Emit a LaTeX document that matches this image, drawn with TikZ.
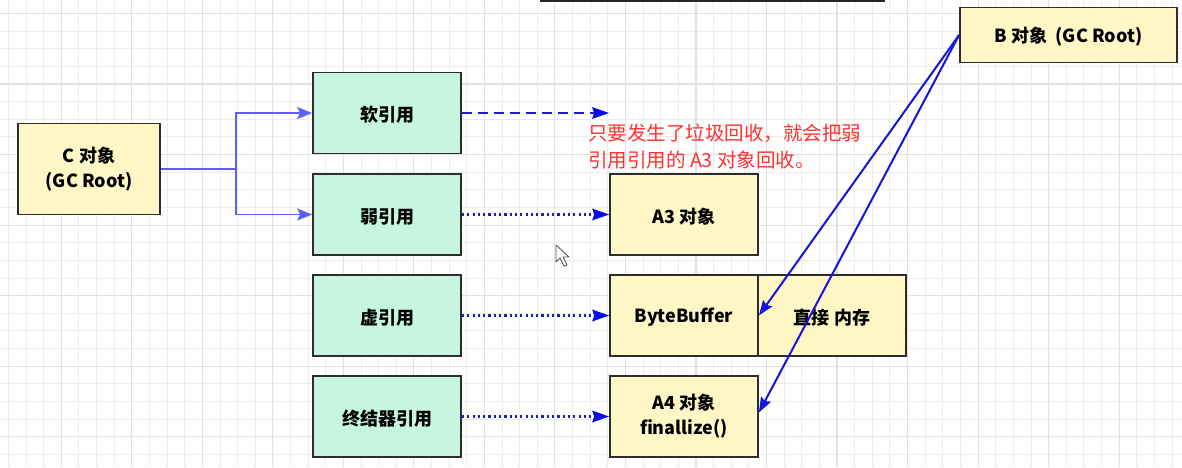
\documentclass[tikz,border=0pt]{standalone}
\usepackage{fontspec}
\setmainfont{Noto Sans CJK SC}
\usetikzlibrary{arrows.meta}
\definecolor{mint}{RGB}{198,245,224}
\definecolor{cream}{RGB}{255,248,198}
\definecolor{edge}{RGB}{45,45,45}
\definecolor{cblue}{RGB}{95,95,255}
\definecolor{dblue}{RGB}{30,30,190}
\definecolor{tipblue}{RGB}{10,10,240}
\definecolor{bblue}{RGB}{20,20,225}
\definecolor{notered}{RGB}{255,50,50}
\definecolor{gridminor}{RGB}{236,236,236}
\definecolor{gridmajor}{RGB}{225,225,225}
\tikzset{
  refbox/.style={draw=edge, line width=1.8pt, minimum width=148, minimum height=81, inner sep=0pt,
    font=\fontsize{18}{25}\selectfont\bfseries, align=center,
    execute at begin node={\rule{0pt}{1.05em}}},
  mintbox/.style={refbox, fill=mint},
  objbox/.style={refbox, fill=cream},
  tipc/.style={-{Stealth[length=15pt,width=12pt,inset=3pt]}},
  carrow/.style={draw=cblue, line width=1.8pt},
  dasharrow/.style={draw=dblue, line width=2.6pt, dash pattern=on 10pt off 6pt, -{Stealth[length=17pt,width=12pt,inset=2pt,color=tipblue,fill=tipblue,line width=0pt]}},
  dotarrow/.style={draw=dblue, line width=2.3pt, dash pattern=on 2.2pt off 3.1pt, -{Stealth[length=17pt,width=12pt,inset=2pt,color=tipblue,fill=tipblue,line width=0pt]}},
  barrow/.style={draw=bblue, line width=2pt, -{Stealth[length=15pt,width=11pt,inset=2pt]}},
  note/.style={text=notered, font=\fontsize{19.5}{27}\selectfont, inner sep=0pt, anchor=base west}
}
\begin{document}
\begin{tikzpicture}[x=1pt,y=-1pt]
\useasboundingbox (0,0) rectangle (1182,467);
\fill[white] (0,0) rectangle (1182,467);
% grid
\foreach \i in {0,...,67} {
  \draw[gridminor, line width=0.9pt] ({8.4+\i*17.63},0) -- ({8.4+\i*17.63},467);
}
\foreach \j in {0,...,26} {
  \draw[gridminor, line width=0.9pt] (0,{13.5+\j*17.63}) -- (1182,{13.5+\j*17.63});
}
\foreach \i in {0,...,16} {
  \draw[gridmajor, line width=1.1pt] ({61.3+(\i-1)*70.52},0) -- ({61.3+(\i-1)*70.52},467);
}
\foreach \j in {0,...,6} {
  \draw[gridmajor, line width=1.1pt] (0,{13.5+\j*70.52}) -- (1182,{13.5+\j*70.52});
}
% top bar
\fill[black!85] (540,0) rectangle (885,2);

% nodes
\node[objbox, minimum width=142, minimum height=91] (c) at (89,169) {C 对象\\(GC Root)};
\node[mintbox] (soft) at (387,113) {软引用};
\node[mintbox] (weak) at (387,214.5) {弱引用};
\node[mintbox] (phantom) at (387,315.5) {虚引用};
\node[mintbox] (final) at (387,416.5) {终结器引用};
\node[objbox] (a3) at (684,214.5) {A3 对象};
\node[objbox] (bb) at (684,315.5) {ByteBuffer};
\node[objbox] (direct) at (832,315.5) {直接 内存};
\node[objbox] (a4) at (684,416.5) {A4 对象\\finallize()};
\node[objbox, minimum width=217, minimum height=55] (b) at (1068.5,35) {B 对象 \ (GC Root)};

\node[note] (note1) at (588,140) {只要发生了垃圾回收，就会把弱};
\node[note] (note2) at (588,167) {引用引用的 A3 对象回收。};

% connectors
\coordinate (split) at (236,169);
\coordinate (softend) at (609,113);
\draw[carrow] (c.east) -- (split);
\draw[carrow, tipc] (split) |- (soft.west);
\draw[carrow, tipc] (split) |- (weak.west);
\draw[dasharrow] (soft.east) -- (softend);
\draw[dotarrow] (weak.east) -- (a3.west);
\draw[dotarrow] (phantom.east) -- (bb.west);
\draw[dotarrow] (final.east) -- (a4.west);
\draw[barrow] (b.west) -- (bb.east);
\draw[barrow] (b.west) -- ([yshift=4pt]a4.east);

% cursor
\draw[black!70, fill=white, line width=0.8pt, line join=round]
  (556,245) -- (556,262) -- (560,258) -- (564,266) -- (567,265) -- (563,257) -- (569,257) -- cycle;
\end{tikzpicture}
\end{document}
